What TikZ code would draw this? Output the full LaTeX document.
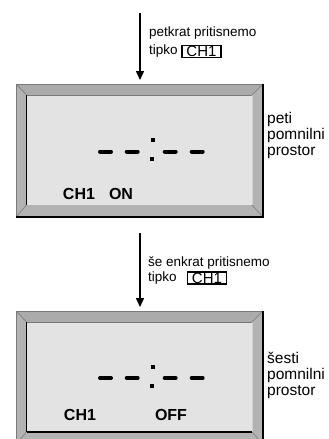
\documentclass[tikz,border=0pt]{standalone}
\usepackage{fontspec}
\setmainfont{Liberation Sans}
\usetikzlibrary{arrows.meta}
\definecolor{bezelgray}{HTML}{B3B3B3}
\definecolor{bezeltop}{HTML}{ABABAB}
\definecolor{screen}{HTML}{E3E3E3}
\definecolor{edgegray}{HTML}{7A7A7A}
\definecolor{edgelight}{HTML}{D0D0D0}
\tikzset{
  lbl/.style={inner sep=0pt, font=\fontsize{13.5}{15}\selectfont, anchor=west},
  sidelbl/.style={inner sep=0pt, font=\fontsize{15.5}{16}\selectfont, anchor=north west, align=left},
  keybox/.style={draw, line width=1.5pt, inner sep=0pt, minimum width=39pt,
    minimum height=12pt, font=\fontsize{15}{15}\selectfont},
  lcdtext/.style={inner sep=0pt, font=\bfseries\fontsize{16}{16}\selectfont},
  panel/.style={minimum width=247pt, minimum height=133pt, inner sep=0pt, outer sep=0pt},
  seg/.style={line width=4pt, line cap=round},
  arr/.style={line width=1.5pt, -{Triangle[length=9pt,width=8pt]}, shorten >=4pt},
  pics/bezel/.style={code={
    \fill[bezelgray] (0,0) rectangle (247,133);
    \fill[bezeltop] (0,0) -- (247,0) -- (236,11) -- (10.5,11) -- cycle;
    \fill[screen] (10.5,11) rectangle (236,121);
    \draw[edgegray, line width=0.6pt] (0,0) -- (10.5,11) (247,0) -- (236,11)
      (0,133) -- (10.5,121) (247,133) -- (236,121);
    \draw[edgegray, line width=0.8pt] (0,133) -- (0,0) -- (247,0);
    \draw[black, line width=1.6pt] (247,0) -- (247,133) -- (0,133);
    \draw[black, line width=1.2pt] (10.5,121) -- (10.5,11);
    \draw[edgegray, line width=0.8pt] (10.5,11) -- (236,11);
    \draw[edgelight, line width=0.8pt] (236,11) -- (236,121);
  }},
  pics/clock/.style={code={
    % four dashes and a slanted colon
    \draw[seg] (0,0) -- (11,0) (26.7,0) -- (37.7,0) (64.7,0) -- (75.7,0) (91.7,0) -- (102.7,0);
    \fill (51.3,-13.5) rectangle (55.3,-9.5);
    \fill (49.5,5.5) rectangle (53.5,9.5);
  }}
}
\begin{document}
\begin{tikzpicture}[x=1pt,y=-1pt]
\useasboundingbox (0,0) rectangle (329,439);
\clip (0,0) rectangle (329,439);

% first step
\coordinate (a1) at (140,13);
\node[lbl] (t1a) at (149,33) {petkrat pritisnemo};
\node[lbl] (t1b) at (149,51) {tipko};
\node[keybox] (k1) at (201.5,51.5) {CH1};

\node[panel] (d1) at (139.5,150.5) {};
\pic at (d1.north west) {bezel};
\draw[arr] (a1) -- (a1 |- d1.north);
\pic at (100,151.5) {clock};
\node[lcdtext] (c1) at (79,193.5) {CH1};
\node[lcdtext] (s1) at (121,193.5) {ON};
\node[sidelbl] (m1) at (267,112) {peti\\pomnilni\\prostor};

% second step
\coordinate (a2) at (140,233);
\node[lbl] (t2a) at (148,263) {še enkrat pritisnemo};
\node[lbl] (t2b) at (148,278) {tipko};
\node[keybox] (k2) at (207,278) {CH1};

\node[panel] (d2) at (139.5,377.5) {};
\pic at (d2.north west) {bezel};
\draw[black, line width=1.2pt] (d2.north west) ++(10.5,121) -- ++(225.5,0);
\draw[arr] (a2) -- (a2 |- d2.north);
\pic at (100,378) {clock};
\node[lcdtext] (c2) at (80,415) {CH1};
\node[lcdtext] (s2) at (171,415) {OFF};
\node[sidelbl] (m2) at (267,352) {šesti\\pomnilni\\prostor};
\end{tikzpicture}
\end{document}
